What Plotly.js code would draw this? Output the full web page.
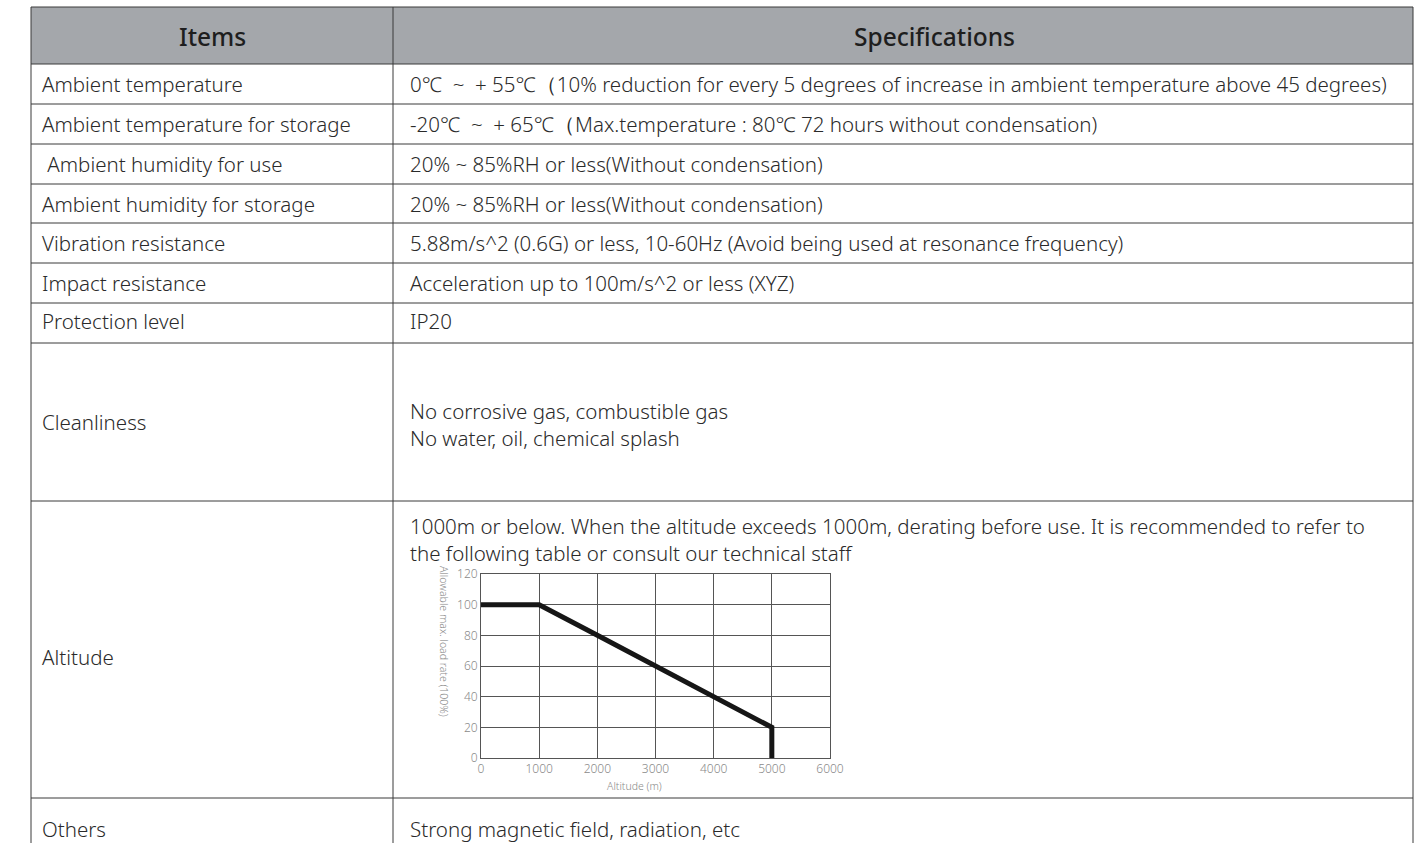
<!DOCTYPE html>
<html>
<head>
<meta charset="utf-8">
<script src="https://cdn.plot.ly/plotly-3.0.1.min.js"></script>
<style>html,body{margin:0;padding:0;background:#fff;}#chart{width:1421px;height:843px;}</style>
</head>
<body>
<div id="chart"></div>
<script>
// ---- table content ----
const headers = ["Items", "Specifications"];
const items = [
  "Ambient temperature",
  "Ambient temperature for storage",
  " Ambient humidity for use",
  "Ambient humidity for storage",
  "Vibration resistance",
  "Impact resistance",
  "Protection level",
  "Cleanliness",
  "Altitude",
  "Others"
];
const specs = [
  ["0℃  ~  + 55℃（10% reduction for every 5 degrees of increase in ambient temperature above 45 degrees)"],
  ["-20℃  ~  + 65℃（Max.temperature : 80℃ 72 hours without condensation)"],
  ["20% ~ 85%RH or less(Without condensation)"],
  ["20% ~ 85%RH or less(Without condensation)"],
  ["5.88m/s^2 (0.6G) or less, 10-60Hz (Avoid being used at resonance frequency)"],
  ["Acceleration up to 100m/s^2 or less (XYZ)"],
  ["IP20"],
  ["No corrosive gas, combustible gas", "No water, oil, chemical splash"],
  ["1000m or below. When the altitude exceeds 1000m, derating before use. It is recommended to refer to", "the following table or consult our technical staff"],
  ["Strong magnetic field, radiation, etc"]
];

// ---- derating curve ----
const altitude = [0, 1000, 2000, 3000, 4000, 5000, 5000];
const loadRate = [100, 100, 80, 60, 40, 20, 0];
const xTicks = [0, 1000, 2000, 3000, 4000, 5000, 6000];
const yTicks = [0, 20, 40, 60, 80, 100, 120];
const xTitle = "Altitude (m)";
const yTitle = "Allowable max. load rate (100%)";

// ---- layout geometry (pixels) ----
const W = 1421, H = 843;
const tableLeft = 31, colDiv = 393, tableRight = 1413;
const rowEdges = [7, 64, 104, 144, 184, 223, 263, 303, 343, 501, 798, 900];
const lineColor = "#3a3a3a";
const px = v => v / W;
const py = v => 1 - v / H;

const FONT = "Noto Sans, Open Sans, sans-serif";
const shapes = [];
const annotations = [];

// header fill
shapes.push({type: "rect", xref: "paper", yref: "paper", x0: px(tableLeft), x1: px(tableRight),
  y0: py(rowEdges[1]), y1: py(rowEdges[0]), fillcolor: "#a4a7ab", line: {width: 0}, layer: "below"});

// horizontal lines
rowEdges.slice(0, -1).forEach(y => {
  shapes.push({type: "line", xref: "paper", yref: "paper", x0: px(tableLeft), x1: px(tableRight),
    y0: py(y), y1: py(y), line: {color: lineColor, width: 1}});
});
// vertical lines
[tableLeft, colDiv, tableRight].forEach(x => {
  shapes.push({type: "line", xref: "paper", yref: "paper", x0: px(x), x1: px(x),
    y0: py(rowEdges[0]), y1: py(H + 10), line: {color: lineColor, width: 1}});
});

// headers
const headFont = {family: FONT, size: 24.5, color: "#1e1e1e", weight: 500};
annotations.push({text: headers[0], xref: "paper", yref: "paper", x: px(213), y: py(37),
  xanchor: "center", yanchor: "middle", showarrow: false, font: headFont});
annotations.push({text: headers[1], xref: "paper", yref: "paper", x: px(934), y: py(37),
  xanchor: "center", yanchor: "middle", showarrow: false, font: headFont});

// body rows
const itemY = [84, 124, 164, 204, 243, 283, 321, 422, 657, 829];
const specY = [84, 124, 164, 204, 243, 283, 321, 424, 539, 829];
const bodyFont = {family: FONT, size: 20.5, color: "#2a2a2a", weight: 300};
items.forEach((t, i) => {
  annotations.push({text: t.replace(/^ /, "&nbsp;"), xref: "paper", yref: "paper", x: px(41), y: py(itemY[i]),
    xanchor: "left", yanchor: "middle", showarrow: false, font: bodyFont, borderpad: 0});
  annotations.push({text: specs[i].join("<br>"), xref: "paper", yref: "paper", x: px(409), y: py(specY[i]),
    xanchor: "left", yanchor: "middle", align: "left", showarrow: false, font: bodyFont, borderpad: 0});
});

// axis titles (placed as in the reference)
const titleFont = {family: FONT, size: 10.5, color: "#8a8a8a", weight: 300};
annotations.push({text: xTitle, xref: "paper", yref: "paper", x: px(634), y: py(786),
  xanchor: "center", yanchor: "middle", showarrow: false, font: titleFont});
annotations.push({text: yTitle, xref: "paper", yref: "paper", x: px(444), y: py(641),
  xanchor: "center", yanchor: "middle", showarrow: false, font: titleFont, textangle: 90});

const trace = {
  x: altitude, y: loadRate, type: "scatter", mode: "lines",
  line: {color: "#161616", width: 5}, hoverinfo: "skip"
};

const axisFont = {family: FONT, size: 12, color: "#8a8a8a", weight: 300};
const layout = {
  width: W, height: H,
  margin: {l: 0, r: 0, t: 0, b: 0},
  paper_bgcolor: "#ffffff", plot_bgcolor: "#ffffff",
  showlegend: false,
  xaxis: {
    domain: [px(481), px(830)], range: [0, 6000], tickvals: xTicks, ticks: "",
    showgrid: true, gridcolor: "#555555", gridwidth: 1, zeroline: false,
    showline: true, linecolor: "#555555", linewidth: 1, mirror: true,
    tickfont: axisFont
  },
  yaxis: {
    domain: [py(758), py(574)], range: [0, 120], tickvals: yTicks, ticks: "",
    showgrid: true, gridcolor: "#555555", gridwidth: 1, zeroline: false,
    showline: true, linecolor: "#555555", linewidth: 1, mirror: true,
    tickfont: axisFont
  },
  shapes: shapes,
  annotations: annotations
};

Plotly.newPlot("chart", [trace], layout, {displayModeBar: false, staticPlot: true});
</script>
</body>
</html>
